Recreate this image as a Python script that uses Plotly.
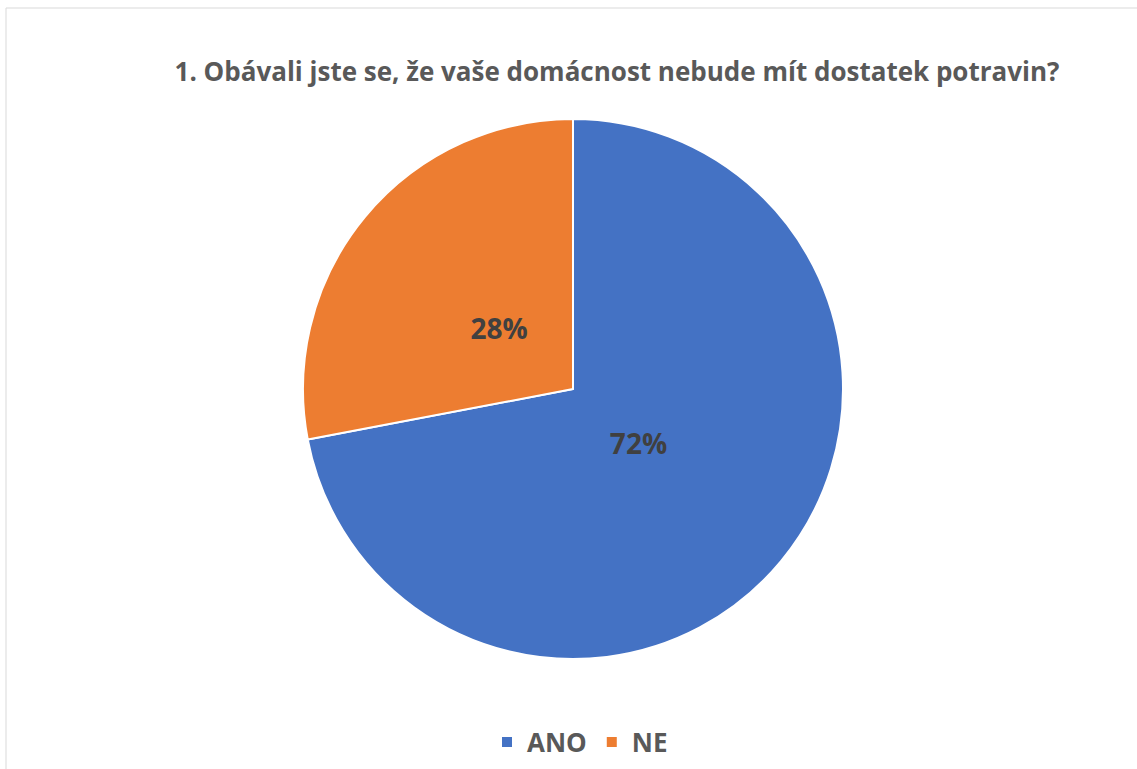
import plotly.graph_objects as go

labels = ["ANO", "NE"]
values = [72, 28]
colors = ["#4472C4", "#ED7D31"]

title_text = "1. Obávali jste se, že vaše domácnost nebude mít dostatek potravin?"

W, H = 1137, 769


def px_x(p):
    return p / W


def px_y(p):
    return 1 - p / H


cx, cy, r = 573, 389, 270
r_text = 170

fig = go.Figure()

# the visible pie
fig.add_trace(go.Pie(
    labels=labels,
    values=values,
    sort=False,
    direction="clockwise",
    rotation=0,
    marker=dict(colors=colors, line=dict(color="white", width=2)),
    textinfo="none",
    domain=dict(x=[px_x(cx - r), px_x(cx + r)], y=[px_y(cy + r), px_y(cy - r)]),
    hoverinfo="label+percent",
))

# transparent inner pie, used only to put the percent labels nearer the centre
fig.add_trace(go.Pie(
    labels=labels,
    values=values,
    sort=False,
    direction="clockwise",
    rotation=0,
    marker=dict(colors=["rgba(0,0,0,0)"] * len(values), line=dict(width=0)),
    texttemplate="%{percent:.0%}",
    textposition="inside",
    insidetextorientation="horizontal",
    textfont=dict(family="Open Sans", size=28, color="#404040", weight="bold"),
    domain=dict(x=[px_x(cx - r_text), px_x(cx + r_text)], y=[px_y(cy + r_text), px_y(cy - r_text)]),
    showlegend=False,
    hoverinfo="skip",
))

fig.update_layout(
    width=W, height=H,
    margin=dict(l=0, r=0, t=0, b=0),
    paper_bgcolor="white",
    plot_bgcolor="white",
    title=dict(text=title_text, x=px_x(617), xanchor="center", y=px_y(72), yanchor="middle",
               font=dict(family="Open Sans", size=26, color="#595959", weight="bold")),
    legend=dict(orientation="h", x=px_x(580), xanchor="center", y=px_y(742), yanchor="middle",
                font=dict(family="Open Sans", size=26, color="#595959", weight="bold"),
                traceorder="normal"),
    shapes=[dict(type="rect", xref="paper", yref="paper", x0=px_x(6), y0=-0.05, x1=1.05, y1=px_y(8),
                 line=dict(color="#D9D9D9", width=1))],
)

# drop the browser's default body margin so the figure fills the window
fig.write_html("out.html", config={"displayModeBar": False},
               post_script="document.body.style.margin = '0';")
